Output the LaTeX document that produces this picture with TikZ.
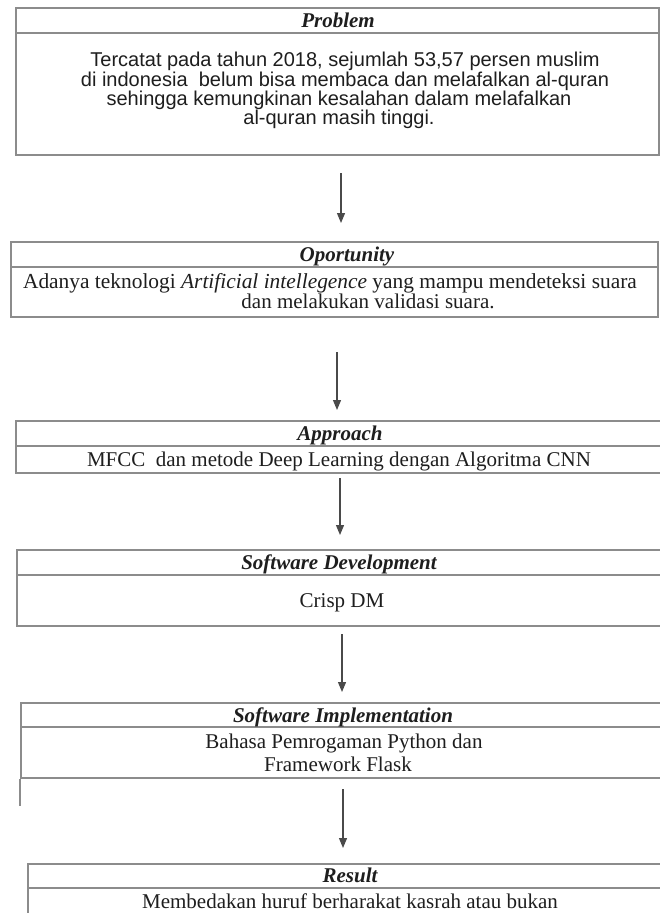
\documentclass[tikz,border=0pt]{standalone}
\usepackage{fontspec}
\setmainfont{Liberation Serif}
\newfontfamily\sansf{Liberation Sans}
\usetikzlibrary{arrows.meta}
\definecolor{linegray}{HTML}{8C8C8C}
\definecolor{arrowgray}{HTML}{4A4A4A}
\definecolor{ink}{HTML}{1E1E1E}
\newcommand{\ttlfont}{\fontsize{21}{22}\selectfont\bfseries\itshape}
\newcommand{\bodyfont}{\fontsize{21}{22}\selectfont}
\newcommand{\sansbody}{\sansf\fontsize{20}{20}\selectfont}
\tikzset{
  boxline/.style={draw=linegray, line width=1.6pt},
  panel/.style={boxline, rectangle, anchor=north west, inner sep=0pt},
  ttl/.style={anchor=base, font=\ttlfont, text=ink, inner sep=0pt},
  body/.style={anchor=base, font=\bodyfont, text=ink, inner sep=0pt},
  sbody/.style={anchor=base, font=\sansbody, text=ink, inner sep=0pt},
  arr/.style={draw=arrowgray, line width=1.2pt, -{Triangle[width=8pt,length=10pt]}}
}
\begin{document}
\begin{tikzpicture}[x=1pt,y=-1pt]
\fill[white] (0,0) rectangle (660,913);
\useasboundingbox (0,0) rectangle (660,913);

% Problem
\node[panel, minimum width=643pt, minimum height=147pt] (problem) at (15,7) {};
\draw[boxline] (15,33) -- (658,33);
\node[ttl] (problemT) at (338,27) {Problem};
\node[sbody] (p1) at (345,66) {Tercatat pada tahun 2018, sejumlah 53,57 persen muslim};
\node[sbody] (p2) at (345,86) {di indonesia\ \ belum bisa membaca dan melafalkan al-quran};
\node[sbody] (p3) at (339,105) {sehingga kemungkinan kesalahan dalam melafalkan};
\node[sbody] (p4) at (339,124) {al-quran masih tinggi.};

% Oportunity
\node[panel, minimum width=647pt, minimum height=75pt] (oport) at (10,241) {};
\draw[boxline] (10,267) -- (657,267);
\node[ttl] (oportT) at (347,261) {Oportunity};
\node[body, font=\fontsize{21.4}{22}\selectfont] (o1) at (330,288) {Adanya teknologi \textit{Artificial intellegence} yang mampu mendeteksi suara};
\node[body] (o2) at (368,308) {dan melakukan validasi suara.};

% Approach
\node[panel, minimum width=665pt, minimum height=52pt] (appr) at (15,420) {};
\draw[boxline] (15,446) -- (680,446);
\node[ttl] (apprT) at (340,440) {Approach};
\node[body] (a1) at (339,466) {MFCC\ \ dan metode Deep Learning dengan Algoritma CNN};

% Software Development
\node[panel, minimum width=664pt, minimum height=76pt] (sdev) at (16,549) {};
\draw[boxline] (16,575) -- (680,575);
\node[ttl] (sdevT) at (339,569) {Software Development};
\node[body] (s1) at (342,607) {Crisp DM};

% Software Implementation
\node[panel, minimum width=660pt, minimum height=75pt] (simp) at (20,702) {};
\draw[boxline] (20,727) -- (680,727);
\draw[boxline] (simp.south west) -- ++(0,27);
\node[ttl] (simpT) at (343,722) {Software Implementation};
\node[body] (i1) at (344,748) {Bahasa Pemrogaman Python dan};
\node[body] (i2) at (338,771) {Framework Flask};

% Result
\node[panel, minimum width=653pt, minimum height=70pt] (res) at (27,863) {};
\draw[boxline] (27,888) -- (680,888);
\node[ttl] (resT) at (350,882) {Result};
\node[body] (r1) at (350,908) {Membedakan huruf berharakat kasrah atau bukan};

% Arrows
\coordinate (a1s) at (341,173); \coordinate (a1e) at (341,223);
\coordinate (a2s) at (337,352); \coordinate (a2e) at (337,410);
\coordinate (a3s) at (340,478); \coordinate (a3e) at (340,535);
\coordinate (a4s) at (342,634); \coordinate (a4e) at (342,692);
\coordinate (a5s) at (343,789); \coordinate (a5e) at (343,848);
\draw[arr] (a1s) -- (a1e);
\draw[arr] (a2s) -- (a2e);
\draw[arr] (a3s) -- (a3e);
\draw[arr] (a4s) -- (a4e);
\draw[arr] (a5s) -- (a5e);
\end{tikzpicture}
\end{document}
